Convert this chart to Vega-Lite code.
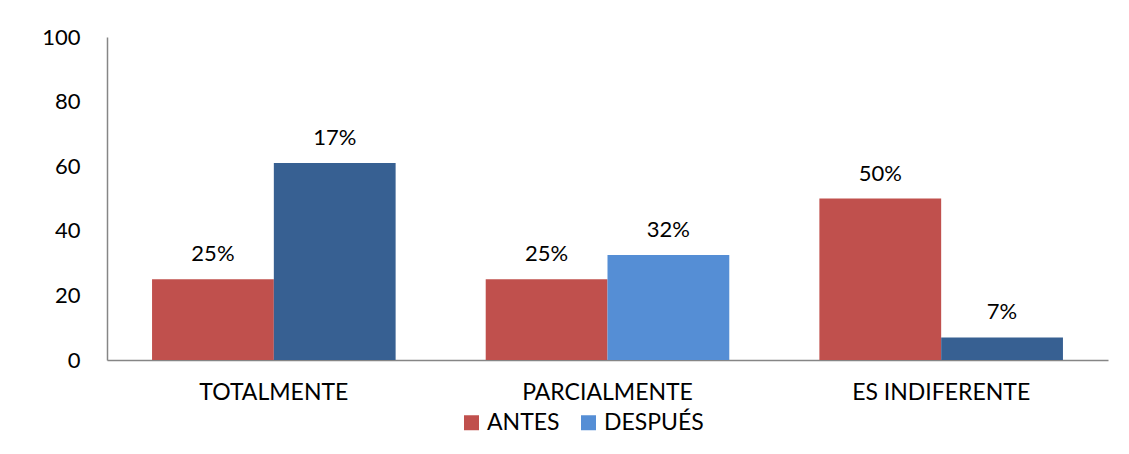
{
  "$schema": "https://vega.github.io/schema/vega-lite/v6.json",
  "width": 1001,
  "height": 323,
  "autosize": "none",
  "padding": {"left": 107, "top": 37, "right": 21, "bottom": 94},
  "background": "white",
  "config": {"view": {"stroke": null}, "font": "Lato"},
  "data": {
    "values": [
      {"categoria": "TOTALMENTE", "serie": "ANTES", "valor": 25, "etiqueta": "25%"},
      {"categoria": "TOTALMENTE", "serie": "DESPUÉS", "valor": 61, "etiqueta": "17%"},
      {"categoria": "PARCIALMENTE", "serie": "ANTES", "valor": 25, "etiqueta": "25%"},
      {"categoria": "PARCIALMENTE", "serie": "DESPUÉS", "valor": 32.5, "etiqueta": "32%"},
      {"categoria": "ES INDIFERENTE", "serie": "ANTES", "valor": 50, "etiqueta": "50%"},
      {"categoria": "ES INDIFERENTE", "serie": "DESPUÉS", "valor": 7, "etiqueta": "7%"}
    ]
  },
  "encoding": {
    "x": {
      "field": "categoria",
      "type": "nominal",
      "sort": ["TOTALMENTE", "PARCIALMENTE", "ES INDIFERENTE"],
      "scale": {"paddingInner": 0.27, "paddingOuter": 0.135},
      "axis": {
        "title": null,
        "labelAngle": 0,
        "ticks": false,
        "domainColor": "#868686",
        "domainWidth": 1.5,
        "labelFontSize": 23,
        "labelColor": "#000000",
        "labelPadding": 21,
        "labelFont": "Lato"
      }
    },
    "xOffset": {"field": "serie", "type": "nominal", "sort": ["ANTES", "DESPUÉS"]},
    "y": {
      "field": "valor",
      "type": "quantitative",
      "scale": {"domain": [0, 100]},
      "axis": {
        "title": null,
        "values": [0, 20, 40, 60, 80, 100],
        "grid": false,
        "ticks": false,
        "domainColor": "#868686",
        "domainWidth": 1.5,
        "labelFontSize": 22,
        "labelColor": "#000000",
        "labelPadding": 27,
        "labelFont": "Lato"
      }
    }
  },
  "layer": [
    {
      "mark": {"type": "bar"},
      "encoding": {
        "color": {
          "condition": {
            "test": "datum.serie === 'DESPUÉS' && datum.categoria !== 'PARCIALMENTE'",
            "value": "#376092"
          },
          "field": "serie",
          "type": "nominal",
          "scale": {"domain": ["ANTES", "DESPUÉS"], "range": ["#C0504D", "#558ED5"]},
          "legend": {
            "title": null,
            "orient": "none",
            "direction": "horizontal",
            "legendX": 353,
            "legendY": 374,
            "symbolType": "square",
            "symbolSize": 225,
            "symbolStrokeWidth": 0,
            "labelFontSize": 23,
            "labelColor": "#000000",
            "labelFont": "Lato",
            "labelOffset": 4,
            "columnPadding": 17
          }
        }
      }
    },
    {
      "mark": {"type": "text", "baseline": "alphabetic", "dy": -18, "fontSize": 22, "color": "#000000", "font": "Lato"},
      "encoding": {"text": {"field": "etiqueta"}}
    }
  ]
}
